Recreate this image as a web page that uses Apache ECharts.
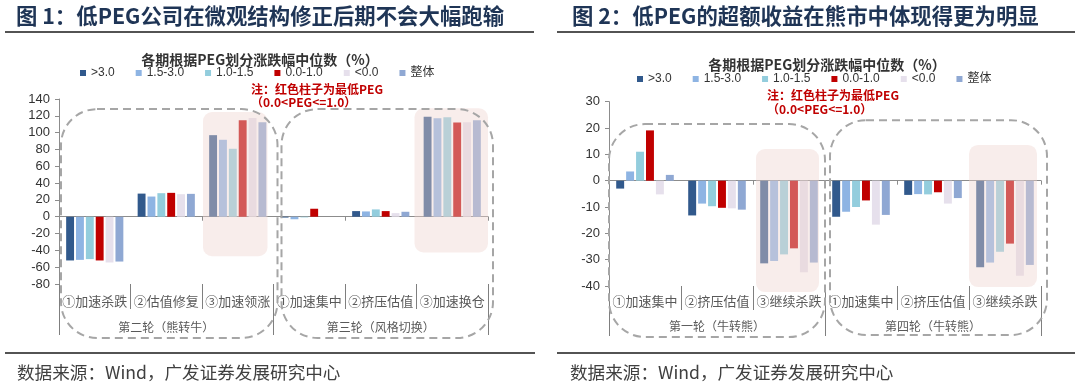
<!DOCTYPE html>
<html><head><meta charset="utf-8">
<script src="https://cdn.jsdelivr.net/npm/echarts@6/dist/echarts.min.js"></script>
<style>html,body{margin:0;padding:0;background:#fff}#c{width:1080px;height:386px}</style>
</head><body><div id="c"></div>
<script>
// ---------- data ----------
const seriesNames = ['>3.0', '1.5-3.0', '1.0-1.5', '0.0-1.0', '<0.0', '整体'];
const seriesColors = ['#31598C', '#8EB4E3', '#93CDDD', '#C00000', '#E6E0EC', '#8FA8D3'];

const leftCats = ['①加速杀跌', '②估值修复', '③加速领涨', '①加速集中', '②挤压估值', '③加速换仓'];
const leftGroups = ['第二轮（熊转牛）', '第三轮（风格切换）'];
const leftTicks = [-80, 140, 20]; // min, max, interval

const rightCats = ['①加速集中', '②挤压估值', '③继续杀跌', '①加速集中', '②挤压估值', '③继续杀跌'];
const rightGroups = ['第一轮（牛转熊）', '第四轮（牛转熊）'];
const rightTicks = [-40, 30, 10];

// left chart values (median return %, by PEG bucket)
const L_gt30 = [-52, 27.5, 97, -1, 6.7, 119];
const L_15_30 = [-51.3, 24, 91.5, -3, 6.3, 117];
const L_10_15 = [-50.4, 28, 80.8, -0.8, 8.7, 118.3];
const L_00_10 = [-52, 28.4, 114.8, 9.5, 6.7, 112];
const L_lt0 = [-54.4, 26.8, 117.5, 0, 4.3, 112.4];
const L_all = [-53.3, 27.2, 112.4, 0, 5.9, 114.8];

// right chart values
const R_gt30 = [-3.0, -13.2, -31.4, -13.7, -5.4, -32.9];
const R_15_30 = [3.5, -8.7, -30.5, -11.8, -5.1, -31.1];
const R_10_15 = [11, -9.7, -28.0, -10.0, -5.2, -27];
const R_00_10 = [19.1, -10.3, -25.7, -7.5, -4.4, -23.9];
const R_lt0 = [-5.2, -10.5, -34.8, -16.7, -8.7, -36.1];
const R_all = [2.2, -11.0, -31.1, -13.0, -6.6, -32.0];

const leftData = [L_gt30, L_15_30, L_10_15, L_00_10, L_lt0, L_all];
const rightData = [R_gt30, R_15_30, R_10_15, R_00_10, R_lt0, R_all];

// text
const title1 = '图 1：低PEG公司在微观结构修正后期不会大幅跑输';
const title2 = '图 2：低PEG的超额收益在熊市中体现得更为明显';
const subTitle = '各期根据PEG划分涨跌幅中位数（%）';
const note1 = '注：红色柱子为最低PEG';
const note2 = '（0.0<PEG<=1.0）';
const source = '数据来源：Wind，广发证券发展研究中心';

// ---------- chart ----------
const CJK = '"Noto Sans CJK SC", sans-serif';
const LAT = '"Liberation Sans", Arial, "Noto Sans CJK SC", sans-serif';
const chart = echarts.init(document.getElementById('c'));

function xAxesFor(g, cats, groups, m1, m2, t1, t2) {
  return [
    { gridIndex: g, type: 'category', data: cats, position: 'bottom',
      axisLine: { onZero: true, lineStyle: { color: '#8c8c8c', width: 1 } },
      axisTick: { show: true, length: 4, lineStyle: { color: '#8c8c8c' } },
      axisLabel: { show: false } },
    { gridIndex: g, type: 'category', data: cats, position: 'bottom',
      axisLine: { show: false, onZero: false },
      axisTick: { show: true, length: t1, lineStyle: { color: '#7f7f7f' } },
      axisLabel: { interval: 0, margin: m1, fontSize: 13, color: '#595959', fontFamily: CJK } },
    { gridIndex: g, type: 'category', data: groups, position: 'bottom',
      axisLine: { show: false, onZero: false },
      axisTick: { show: true, length: t2, lineStyle: { color: '#7f7f7f' } },
      axisLabel: { interval: 0, margin: m2, fontSize: 12, color: '#595959', fontFamily: CJK } }
  ];
}
function yAxisFor(g, t) {
  return { gridIndex: g, type: 'value', min: t[0], max: t[1], interval: t[2],
    axisLine: { show: true, lineStyle: { color: '#8c8c8c' } },
    axisTick: { show: true, length: 4, lineStyle: { color: '#8c8c8c' } },
    splitLine: { show: false },
    axisLabel: { margin: 9, fontSize: 13, color: '#333', fontFamily: LAT } };
}
function seriesFor(xi, yi, data) {
  return seriesNames.map((n, i) => ({
    name: n, type: 'bar', xAxisIndex: xi, yAxisIndex: yi, data: data[i],
    itemStyle: { color: seriesColors[i] },
    barCategoryGap: '20%', barGap: '25%'
  }));
}
const legendBase = { data: seriesNames, icon: 'rect', itemWidth: 6, itemHeight: 6, itemGap: 21,
  padding: 0, textStyle: { fontSize: 12, color: '#333', fontFamily: LAT }, selectedMode: false };

chart.setOption({
  animation: false,
  grid: [
    { left: 59, top: 99, width: 429, height: 185 },
    { left: 609, top: 101.7, width: 432, height: 184.3 }
  ],
  legend: [
    Object.assign({ left: 80, top: 67 }, legendBase),
    Object.assign({ left: 637, top: 73 }, legendBase)
  ],
  xAxis: xAxesFor(0, leftCats, leftGroups, 11, 37, 25, 51)
    .concat(xAxesFor(1, rightCats, rightGroups, 9, 34, 24, 50)),
  yAxis: [yAxisFor(0, leftTicks), yAxisFor(1, rightTicks)],
  series: seriesFor(0, 0, leftData).concat(seriesFor(3, 1, rightData))
});

// ---------- decorations positioned through the axes ----------
function px(g, c, v) { return chart.convertToPixel({ gridIndex: g }, [c, v]); }
function bounds(g) {
  const c0 = px(g, 0, 0)[0], c1 = px(g, 1, 0)[0];
  const bw = c1 - c0;
  return { bw, b: i => c0 - bw / 2 + i * bw };
}
const gfx = [];
// pink highlight areas (overlay on top of bars)
const hl = [
  { g: 0, c: 2, dx0: 1, dx1: -6, top: 124.5, bot: -47 },
  { g: 0, c: 5, dx0: -2, dx1: 0, top: 129, bot: -42.5 },
  { g: 1, c: 2, dx0: 3, dx1: -6, top: 12, bot: -42.3 },
  { g: 1, c: 5, dx0: 0, dx1: -4, top: 13.6, bot: -40.4 }
];
hl.forEach(h => {
  const B = bounds(h.g);
  const x0 = B.b(h.c) + h.dx0, x1 = B.b(h.c + 1) + h.dx1;
  const y0 = px(h.g, 0, h.top)[1], y1 = px(h.g, 0, h.bot)[1];
  gfx.push({ type: 'rect', z: 50, silent: true,
    shape: { x: x0, y: y0, width: x1 - x0, height: y1 - y0, r: 9 },
    style: { fill: 'rgba(238,212,208,0.42)' } });
});
// dashed group boxes
const boxes = [
  { g: 0, c0: 0, c1: 3, dx0: 2, dx1: 4, top: 128, botPx: 54 },
  { g: 0, c0: 3, c1: 6, dx0: 8, dx1: 5, top: 128, botPx: 54 },
  { g: 1, c0: 0, c1: 3, dx0: 0, dx1: 0, top: 21.5, botPx: 51 },
  { g: 1, c0: 3, c1: 6, dx0: 5, dx1: 6, top: 23, botPx: 49 }
];
const gridBottoms = [px(0, 0, leftTicks[0])[1], px(1, 0, rightTicks[0])[1]];
boxes.forEach(bx => {
  const B = bounds(bx.g);
  const x0 = B.b(bx.c0) + bx.dx0, x1 = B.b(bx.c1) + bx.dx1;
  const y0 = px(bx.g, 0, bx.top)[1], y1 = gridBottoms[bx.g] + bx.botPx;
  gfx.push({ type: 'rect', z: 60, silent: true,
    shape: { x: x0, y: y0, width: x1 - x0, height: y1 - y0, r: 36 },
    style: { fill: 'none', stroke: '#a6a6a6', lineWidth: 2, lineDash: [8, 5] } });
});
// titles, rules, notes, source
function txt(x, y, t, font, fill, align) {
  gfx.push({ type: 'text', z: 70, silent: true,
    style: { x, y, text: t, font, fill, align: align || 'left', verticalAlign: 'middle' } });
}
function line(x1, y1, x2, y2, w) {
  gfx.push({ type: 'line', z: 70, silent: true, shape: { x1, y1, x2, y2 },
    style: { stroke: '#1a1a1a', lineWidth: w } });
}
txt(16, 16, title1, 'bold 21.4px ' + CJK, '#1f3556');
txt(572, 16, title2, 'bold 21.4px ' + CJK, '#1f3556');
line(5, 32, 534, 32, 1.6);
line(557, 32, 1075, 32, 1.6);
txt(260, 59.5, subTitle, 'bold 14px ' + CJK, '#333', 'center');
txt(827, 65, subTitle, 'bold 14px ' + CJK, '#333', 'center');
txt(251, 89, note1, 'bold 12px ' + CJK, '#C00000');
txt(251, 102, note2, 'bold 12px ' + CJK, '#C00000');
txt(767, 95, note1, 'bold 12px ' + CJK, '#C00000');
txt(767, 109, note2, 'bold 12px ' + CJK, '#C00000');
line(5, 353, 535, 353, 1.6);
line(557, 353, 1075, 353, 1.6);
txt(17, 372, source, '17.6px ' + CJK, '#404040');
txt(570, 372, source, '17.6px ' + CJK, '#404040');

chart.setOption({ graphic: { elements: gfx } });
</script>
</body></html>
